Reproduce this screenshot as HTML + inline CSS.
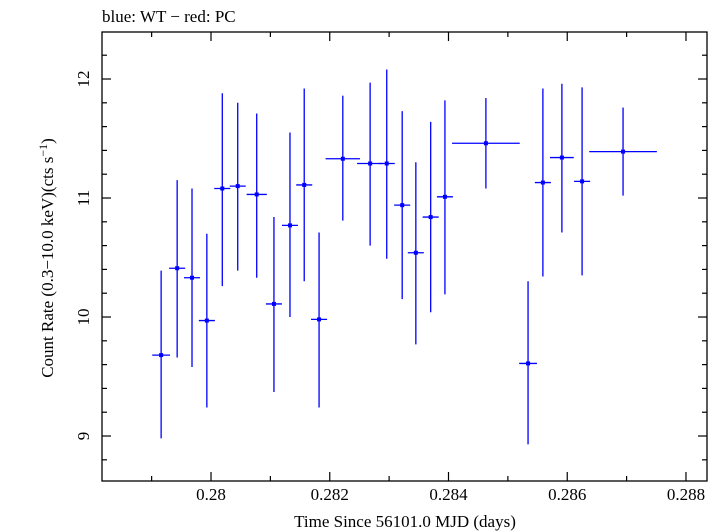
<!DOCTYPE html>
<html><head><meta charset="utf-8"><style>
html,body{margin:0;padding:0;background:#fff;}
svg{display:block;font-family:"Liberation Serif",serif;}
</style></head><body>
<svg id="chart" width="725" height="532" viewBox="0 0 725 532">
<text x="102" y="22" font-size="17">blue: WT − red: PC</text>
<rect x="102" y="32" width="605" height="449" fill="none" stroke="#000" stroke-width="1.3"/>
<g id="axes"></g>
<g id="series"></g>
<text x="405" y="527" font-size="17" text-anchor="middle">Time Since 56101.0 MJD (days)</text>
<text transform="translate(53,258) rotate(-90)" font-size="17" text-anchor="middle">Count Rate (0.3−10.0 keV)(cts s<tspan dy="-6" font-size="12">−1</tspan><tspan dy="6">)</tspan></text>
</svg>
<script>
const times=[0.27916,0.27943,0.27968,0.27993,0.28019,0.28045,0.28077,0.28106,0.28133,0.28157,0.28182,0.28222,0.28268,0.28296,0.28322,0.28345,0.2837,0.28394,0.28463,0.28534,0.28559,0.28591,0.28625,0.28694];
const timeErr=[0.00015,0.000135,0.000135,0.000135,0.000135,0.000135,0.00017,0.000135,0.000135,0.000135,0.000135,0.00029,0.00022,0.000135,0.000135,0.000135,0.000135,0.000135,0.00057,0.00015,0.000135,0.0002,0.000135,0.00057];
const rates=[9.68,10.41,10.33,9.97,11.08,11.10,11.03,10.11,10.77,11.11,9.98,11.33,11.29,11.29,10.94,10.54,10.84,11.01,11.46,9.61,11.13,11.34,11.14,11.39];
const rateHi=[10.39,11.15,11.08,10.70,11.88,11.80,11.71,10.84,11.55,11.92,10.71,11.86,11.97,12.08,11.73,11.30,11.64,11.82,11.84,10.30,11.92,11.96,11.93,11.76];
const rateLo=[8.98,9.66,9.58,9.24,10.26,10.39,10.33,9.37,10.0,10.30,9.24,10.81,10.60,10.49,10.15,9.77,10.04,10.19,11.08,8.93,10.34,10.71,10.35,11.02];
const xTicks=[0.280,0.282,0.284,0.286,0.288];
const xTickLabels=["0.28","0.282","0.284","0.286","0.288"];
const yTicks=[9,10,11,12];
const yTickLabels=["9","10","11","12"];
const X0=102,X1=707,Y0=481,Y1=32,xmin=0.278164,xmax=0.288354,ymin=8.622,ymax=12.395;
const sx=t=>X0+(t-xmin)/(xmax-xmin)*(X1-X0);
const sy=v=>Y0-(v-ymin)/(ymax-ymin)*(Y0-Y1);
const NS="http://www.w3.org/2000/svg";
function mk(tag,attrs,parent){const e=document.createElementNS(NS,tag);for(const k in attrs)e.setAttribute(k,attrs[k]);parent.appendChild(e);return e;}
const ax=document.getElementById('axes');
const ser=document.getElementById('series');
for(let i=0;i<=10;i++){const t=0.279+i*0.001;const x=sx(t);if(x<X0||x>X1)continue;
 const r=Math.round(t*1000);const major=r%2===0;const L=major?9:5;
 const a=mk('line',{x1:x,x2:x,y1:Y0,y2:Y0-L,stroke:'#000','stroke-width':1.2},ax);
 
 
 const b=mk('line',{x1:x,x2:x,y1:Y1,y2:Y1+L,stroke:'#000','stroke-width':1.2},ax);
 
 }
xTicks.forEach((t,i)=>{const tx=mk('text',{x:sx(t),y:500,'font-size':17,'text-anchor':'middle'},ax);tx.textContent=xTickLabels[i];
 
 });
for(let i=0;i<=20;i++){const v=8.8+i*0.2;const y=sy(v);if(y<Y1||y>Y0)continue;
 const major=Math.abs(v-Math.round(v))<1e-6;const L=major?9:5;
 const a=mk('line',{x1:X0,x2:X0+L,y1:y,y2:y,stroke:'#000','stroke-width':1.2},ax);
 
 
 const b=mk('line',{x1:X1,x2:X1-L,y1:y,y2:y,stroke:'#000','stroke-width':1.2},ax);
 
 }
yTicks.forEach((v,i)=>{const tx=mk('text',{transform:'translate(89,'+sy(v)+') rotate(-90)','font-size':17,'text-anchor':'middle'},ax);tx.textContent=yTickLabels[i];
 
 });
times.forEach((t,i)=>{const g=mk('g',{},ser);
 
 
 mk('line',{x1:sx(t),x2:sx(t),y1:sy(rateHi[i]),y2:sy(rateLo[i]),stroke:'#0000ff','stroke-width':1.3},g);
 mk('line',{x1:sx(t-timeErr[i]),x2:sx(t+timeErr[i]),y1:sy(rates[i]),y2:sy(rates[i]),stroke:'#0000ff','stroke-width':1.3},g);
 mk('rect',{x:sx(t)-2,y:sy(rates[i])-2,width:4,height:4,fill:'#0000ff'},g);});
</script>
</body></html>
